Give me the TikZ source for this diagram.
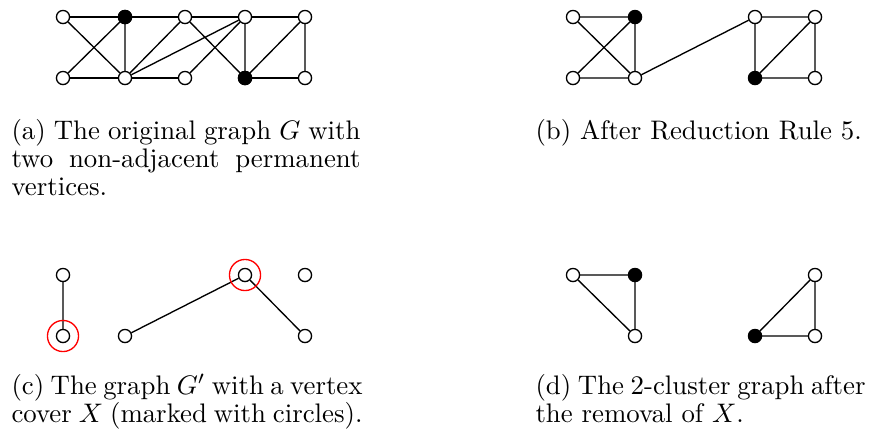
\documentclass[tikz,border=0pt]{standalone}
\begin{document}
\begin{tikzpicture}[x=0.373pt,y=-0.373pt,
  v/.style={circle,draw,fill=white,inner sep=0pt,minimum size=4.9pt,line width=0.5pt},
  p/.style={v,fill=black},
  e/.style={line width=0.5pt},
  xmark/.style={circle,draw=red,inner sep=0pt,minimum size=11.6pt,line width=0.5pt},
  capt/.style={anchor=base west,inner sep=0pt,align=justify,font=\fontsize{10}{10.45}\selectfont}]
\useasboundingbox (0,0) rectangle (871,434);
% ---------- (a)
\foreach \i/\x in {1/63,2/125,3/185,4/245,5/305}{
  \node[v] (at\i) at (\x,17) {};
  \node[v] (ab\i) at (\x,78) {};
}
\node[p] at (at2) {};
\node[p] at (ab4) {};
\draw[e] (at1)--(at2) (at2)--(at3) (at3)--(at4) (at4)--(at5);
\draw[e] (ab1)--(ab2) (ab2)--(ab3) (ab4)--(ab5);
\draw[e] (at1)--(ab2) (ab1)--(at2) (at2)--(ab2) (ab2)--(at3) (ab2)--(at4)
         (at3)--(ab4) (ab3)--(at4) (at4)--(ab4) (ab4)--(at5) (at5)--(ab5);
% ---------- (b)
\node[v] (bt1) at (573,17) {};
\node[p] (bt2) at (635,17) {};
\node[v] (bb1) at (573,78) {};
\node[v] (bb2) at (635,78) {};
\node[v] (bt4) at (755,17) {};
\node[v] (bt5) at (815,17) {};
\node[p] (bb4) at (755,78) {};
\node[v] (bb5) at (815,78) {};
\draw[e] (bt1)--(bt2) (bt1)--(bb2) (bb1)--(bt2) (bt2)--(bb2) (bb1)--(bb2)
         (bb2)--(bt4) (bt4)--(bt5) (bt4)--(bb4) (bb4)--(bt5) (bt5)--(bb5) (bb4)--(bb5);
% ---------- (c)
\node[v] (c1) at (63,275) {};
\node[v] (c2) at (63,336) {};
\node[v] (c3) at (125,336) {};
\node[v] (c4) at (245,275) {};
\node[v] (c5) at (305,275) {};
\node[v] (c6) at (305,336) {};
\draw[e] (c1)--(c2) (c3)--(c4) (c4)--(c6);
\node[xmark] (x1) at (c2) {};
\node[xmark] (x2) at (c4) {};
% ---------- (d)
\node[v] (d1) at (573,275) {};
\node[p] (d2) at (635,275) {};
\node[v] (d3) at (635,336) {};
\node[v] (d4) at (815,275) {};
\node[p] (d5) at (755,336) {};
\node[v] (d6) at (815,336) {};
\draw[e] (d1)--(d2) (d1)--(d3) (d2)--(d3) (d4)--(d5) (d4)--(d6) (d5)--(d6);
% ---------- captions
\node[capt,text width=349*0.373pt] (capa) at (11,139)
  {(a) The original graph $G$ with two non-adjacent permanent vertices.};
\node[capt,text width=330*0.373pt] (capb) at (535,139)
  {(b) After Reduction Rule 5.};
\node[capt,text width=351*0.373pt] (capc) at (11,394)
  {(c) The graph $G'$ with a vertex cover $X$ (marked with circles).};
\node[capt,text width=330*0.373pt] (capd) at (535,394)
  {(d) The 2-cluster graph after the removal of $X$.};
\end{tikzpicture}
\end{document}
